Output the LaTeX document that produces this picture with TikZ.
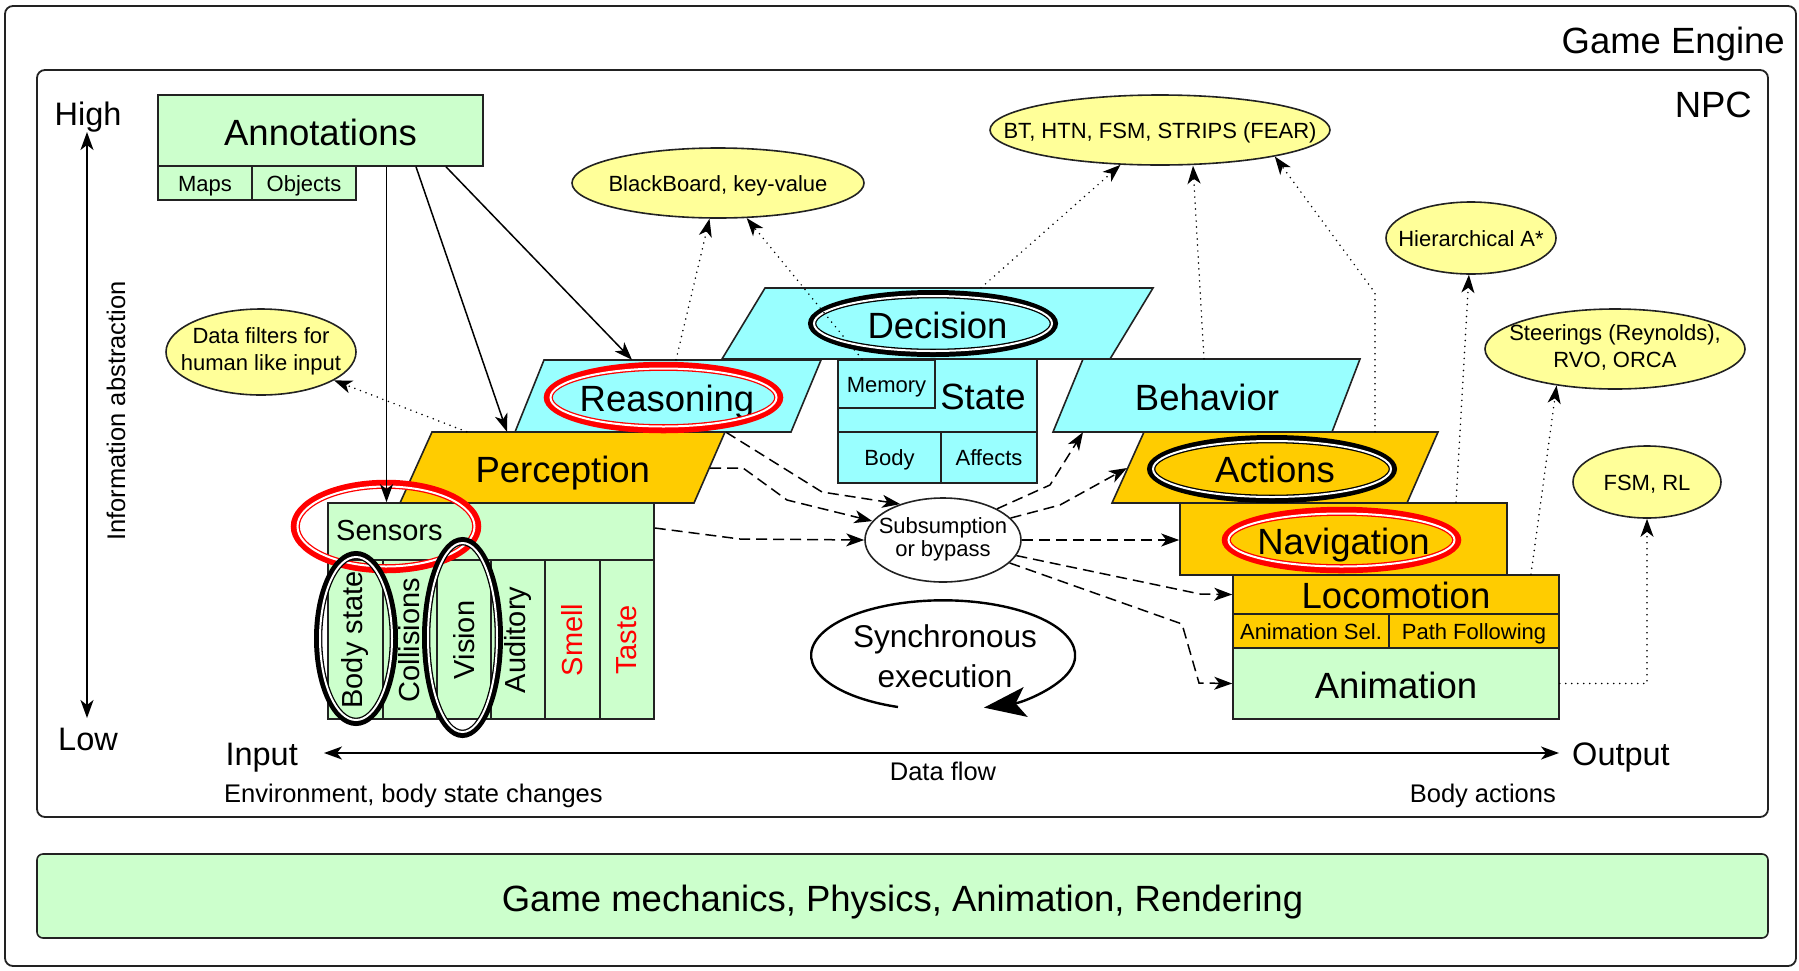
\documentclass[tikz,border=0pt]{standalone}
\usepackage{fontspec}
\setmainfont{Liberation Sans}
\usetikzlibrary{shapes.geometric,arrows.meta}
\definecolor{boxgreen}{HTML}{CCFFCC}
\definecolor{boxcyan}{HTML}{99FFFF}
\definecolor{boxorange}{HTML}{FFCC00}
\definecolor{boxyellow}{HTML}{FFFF99}
\definecolor{linegray}{HTML}{222222}
% text that does not widen its ellipse
\newcommand{\ellline}[1]{\makebox[0pt]{#1}}
\newcommand{\elltwo}[3][0pt]{\makebox[0pt]{\raisebox{#1}{\begin{tabular}{@{}c@{}}#2\\#3\end{tabular}}}}

\begin{document}
\begin{tikzpicture}[x=1pt,y=-1pt,>={Stealth[length=18pt,width=13pt,inset=5pt]}]
        \tikzstyle{bigtxt}=[font=\fontsize{36.5}{44}\selectfont]
        \tikzstyle{bigbox}=[bigtxt, text height=30pt, text depth=0pt]
        \tikzstyle{axistxt}=[font=\fontsize{32.5}{39}\selectfont, inner sep=0pt]
        \tikzstyle{synctxt}=[font=\fontsize{31.5}{40}\selectfont, inner sep=0pt]
        \tikzstyle{senstxt}=[font=\fontsize{29}{35}\selectfont, inner sep=0pt]
        \tikzstyle{midtxt}=[font=\fontsize{25.5}{31}\selectfont, inner sep=0pt]
        \tikzstyle{smalltxt}=[font=\fontsize{22}{27}\selectfont]
        \tikzstyle{smallbox}=[smalltxt, text height=16pt, text depth=0pt]
        \tikzstyle{frame}=[draw=linegray, line width=1.8pt, rounded corners=8pt]
        \tikzstyle{blk}=[draw=linegray, line width=1.6pt, rectangle, inner sep=0pt]
        \tikzstyle{para}=[draw=linegray, line width=1.6pt]
        \tikzstyle{ell}=[ellipse, draw=linegray, line width=1.6pt, fill=boxyellow, inner sep=0pt, smalltxt]
        \tikzstyle{redout}=[ellipse, draw=red, line width=5.5pt, inner sep=0pt]
        \tikzstyle{redin}=[ellipse, draw=red, line width=1.3pt, double=white, double distance=2pt, inner sep=0pt]
        \tikzstyle{blackout}=[ellipse, draw=black, line width=5pt, inner sep=0pt]
        \tikzstyle{blackin}=[ellipse, draw=black, line width=1.3pt, double=white, double distance=2pt, inner sep=0pt]
        \tikzstyle{arr}=[->, line width=1.5pt]
        \tikzstyle{dotarr}=[->, line width=1.7pt, line cap=round, dash pattern=on 0pt off 6pt]
        \tikzstyle{dasharr}=[->, line width=1.5pt, dash pattern=on 11pt off 6pt]
        \useasboundingbox (0,0) rectangle (1799,970);

        % frames
        \draw[frame] (5,6) rectangle (1796,966);
        \node[bigtxt, inner sep=0pt, anchor=base east] (gameLbl) at (1785,53) {Game Engine};
        \draw[frame] (37,70) rectangle (1768,817);
        \node[bigtxt, inner sep=0pt, anchor=base east] (npcLbl) at (1752,117) {NPC};
        \node[blk, fill=boxgreen, rounded corners=6pt, minimum width=1731, minimum height=84, bigbox] (mech) at (902.5,896) {Game mechanics, Physics, Animation, Rendering};

        % axes
        \node[axistxt, anchor=base] (highLbl) at (88,125) {High};
        \node[axistxt, anchor=base] (lowLbl) at (88,750) {Low};
        \node[midtxt, rotate=90, anchor=base] (absLbl) at (125,411) {Information abstraction};
        \coordinate (absTop) at (87,132);
        \coordinate (absBot) at (87,718);
        \draw[arr, <->] (absTop) -- (absBot);
        \node[axistxt, anchor=base east] (inLbl) at (298,765) {Input};
        \node[axistxt, anchor=base west] (outLbl) at (1572,765) {Output};
        \node[midtxt, anchor=base] (flowLbl) at (943,780) {Data flow};
        \node[midtxt, anchor=base west] (envLbl) at (224,802) {Environment, body state changes};
        \node[midtxt, anchor=base east] (bodyActLbl) at (1556,802) {Body actions};
        \coordinate (flowL) at (324,753);
        \coordinate (flowR) at (1559,753);
        \draw[arr, <->] (flowL) -- (flowR);

        % annotations
        \node[blk, fill=boxgreen, minimum width=325, minimum height=71, bigbox] (annot) at (320.5,130.5) {Annotations};
        \node[blk, fill=boxgreen, minimum width=94, minimum height=34, smallbox] (maps) at (205,183) {Maps};
        \node[blk, fill=boxgreen, minimum width=104, minimum height=34, smallbox] (objs) at (304,183) {Objects};

        % decision layer
        \draw[para, fill=boxcyan] (722,359) -- (765,288) -- (1153,288) -- (1110,359) -- cycle;
        \node[bigbox, inner sep=0pt, minimum height=71] (decis) at (937.5,323.5) {Decision};
        \draw[para, fill=boxcyan] (515,432) -- (544,360) -- (821,360) -- (791,432) -- cycle;
        \node[bigbox, inner sep=0pt, minimum height=72] (reason) at (667,396) {Reasoning};
        \draw[para, fill=boxcyan] (1053,432) -- (1083,359) -- (1360,359) -- (1332,432) -- cycle;
        \node[bigbox, inner sep=0pt, minimum height=73] (behav) at (1207,395.5) {Behavior};
        \node[blk, fill=boxcyan, minimum width=199, minimum height=73] (stateBox) at (937.5,395.5) {};
        \node[bigbox, inner sep=0pt] (stateLbl) at (983,394) {State};
        \node[blk, fill=boxcyan, minimum width=97, minimum height=48, smallbox] (memory) at (886.5,384) {Memory};
        \node[blk, fill=boxcyan, minimum width=103, minimum height=51, smallbox] (bodyBox) at (889.5,457.5) {Body};
        \node[blk, fill=boxcyan, minimum width=96, minimum height=51, smallbox] (affects) at (989,457.5) {Affects};

        % perception and sensors
        \draw[para, fill=boxorange] (400,503) -- (432,432) -- (725,432) -- (694,503) -- cycle;
        \node[bigbox, inner sep=0pt, minimum height=71] (percep) at (562.75,467.5) {Perception};
        \node[blk, fill=boxgreen, minimum width=326, minimum height=216] (sensBox) at (491,611) {};
        \draw[para] (328,560) -- (654,560);
        \foreach \x in {383,437,491,545,600}
            \draw[para] (\x,560) -- (\x,719);
        \node[senstxt, anchor=base west] (sensLbl) at (336,540) {Sensors};
        \foreach \lbl/\clr [count=\i] in {Body state/black,Collisions/black,Vision/black,Auditory/black,Smell/red,Taste/red}
            \node[senstxt, rotate=90, text=\clr] (col\i) at ({328+54.33*(\i-0.5)},640) {\lbl};

        % action layer
        \draw[para, fill=boxorange] (1112,503) -- (1144,432) -- (1438,432) -- (1407,503) -- cycle;
        \node[bigbox, inner sep=0pt, minimum height=71] (action) at (1275,467.5) {Actions};
        \node[blk, fill=boxorange, minimum width=327, minimum height=72, bigbox] (nav) at (1343.5,539) {Navigation};
        \node[blk, fill=boxorange, minimum width=326, minimum height=39, bigtxt, text height=27pt, text depth=0pt] (loco) at (1396,594.5) {Locomotion};
        \node[blk, fill=boxorange, minimum width=156, minimum height=34, smallbox] (animSel) at (1311,631) {Animation Sel.};
        \node[blk, fill=boxorange, minimum width=170, minimum height=34, smallbox] (pathFol) at (1474,631) {Path Following};
        \node[blk, fill=boxgreen, minimum width=326, minimum height=71, bigbox] (anim) at (1396,683.5) {Animation};

        % techniques
        \node[ell, text height=16pt, text depth=0pt, minimum width=292, minimum height=70] (bboard) at (718,183) {\ellline{BlackBoard, key-value}};
        \node[ell, text height=16pt, text depth=0pt, minimum width=340, minimum height=70] (btree) at (1160,130) {\ellline{BT, HTN, FSM, STRIPS (FEAR)}};
        \node[ell, text height=16pt, text depth=0pt, minimum width=170, minimum height=72] (hier) at (1471,238) {\ellline{Hierarchical A*}};
        \node[ell, minimum width=260, minimum height=80] (steer) at (1615,349) {\elltwo[-2pt]{Steerings (Reynolds),}{RVO, ORCA}};
        \node[ell, text height=16pt, text depth=0pt, minimum width=148, minimum height=72] (fsm) at (1647,482) {\ellline{FSM, RL}};
        \node[ell, minimum width=190, minimum height=86] (filt) at (261,352) {\elltwo{Data filters for}{human like input}};
        \node[ell, fill=white, font=\fontsize{22}{23}\selectfont, minimum width=156, minimum height=84] (subs) at (943,540) {\elltwo[-3pt]{Subsumption}{or bypass}};

        % highlight rings
        \node[redout, minimum width=185, minimum height=88] (sensRing) at (386,526.5) {};
        \node[redin, minimum width=177, minimum height=80] at (sensRing) {};
        \node[redout, minimum width=234, minimum height=66] (reasRing) at (663.5,397.5) {};
        \node[redin, minimum width=226, minimum height=58] at (reasRing) {};
        \node[redout, minimum width=234, minimum height=61] (navRing) at (1341.5,540) {};
        \node[redin, minimum width=226, minimum height=53] at (navRing) {};
        \node[blackout, minimum width=245, minimum height=62] (decRing) at (933,323.5) {};
        \node[blackin, minimum width=238, minimum height=55] at (decRing) {};
        \node[blackout, minimum width=245, minimum height=63] (actRing) at (1272,469) {};
        \node[blackin, minimum width=238, minimum height=56] at (actRing) {};
        \node[blackout, minimum width=79, minimum height=170] (bodyRing) at (356,638.5) {};
        \node[blackin, minimum width=72, minimum height=163] at (bodyRing) {};
        \node[blackout, minimum width=76, minimum height=196] (visRing) at (462.5,637.5) {};
        \node[blackin, minimum width=69, minimum height=189] at (visRing) {};

        % synchronous loop
        \node[synctxt, align=center] (syncLbl) at (945,656) {Synchronous\\execution};
        \coordinate (syncStart) at (898,707);
        \draw[line width=2.4pt, -{Stealth[length=42pt,width=30pt,inset=10pt]}] (syncStart) arc[start angle=110, end angle=432, x radius=132, y radius=55];

        % annotations feed
        \draw[arr] ([xshift=66pt]annot.south) -- ([xshift=-104.5pt]sensBox.north);
        \draw[arr] ([xshift=95.5pt]annot.south) -- ([xshift=-55.75pt]percep.north);
        \draw[arr] ([xshift=125.5pt]annot.south) -- ([xshift=-35pt]reason.north);

        % techniques links
        \draw[dotarr] ([xshift=-96pt]percep.north) -- (filt);
        \draw[dotarr] ([xshift=9pt]reason.north) -- (bboard);
        \draw[dotarr] ([xshift=-24.5pt]memory.north) -- (bboard);
        \draw[dotarr] ([xshift=43.5pt]decis.north) -- (btree);
        \draw[dotarr] ([xshift=-3pt]behav.north) -- ([xshift=33pt]btree.south);
        \draw[dotarr] ([xshift=100pt]action.north) -- ++(0,-139) -- (btree.-13);
        \draw[dotarr] ([xshift=112.5pt]nav.north) -- (hier);
        \draw[dotarr] ([xshift=135pt]loco.north) -- (steer.212);
        \draw[dotarr] (anim.east) -- (anim.east -| fsm.south) -- (fsm.south);

        % data flow through subsumption
        \coordinate (percR) at (710,468);
        \coordinate (actL) at (1127,468);
        \draw[dasharr] ([xshift=59pt]reason.south) -- (822,492) -- (subs.140);
        \draw[dasharr] (percR) -- (743,468) -- (787,500) -- (subs.165);
        \draw[dasharr] ([yshift=83pt]sensBox.east) -- (740,539) -- (subs.west);
        \draw[dasharr] (subs.30) -- (1050,485) -- ([xshift=-124pt]behav.south);
        \draw[dasharr] (subs.18) -- (1060,505) -- (actL);
        \draw[dasharr] (subs.east) -- (subs.east -| nav.west);
        \draw[dasharr] (subs.-12) -- (1200,594) -- (loco.west);
        \draw[dasharr] (subs.-19) -- (1182,624) -- (1199,683) -- (anim.west);
\end{tikzpicture}
\end{document}
